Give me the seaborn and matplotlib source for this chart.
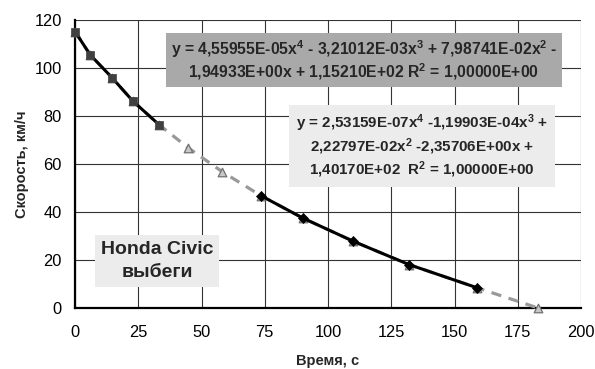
import numpy as np
import pandas as pd
import matplotlib
matplotlib.use("Agg")
import matplotlib.pyplot as plt
import seaborn as sns

# ---- data ----
time_s = [0, 6, 14.6, 22.8, 33.3, 44.8, 58.3, 73.5, 90, 110, 132, 159, 183]
speed_kmh = [115.2, 105.5, 96.0, 86.3, 76.3, 66.7, 56.7, 46.8, 37.5, 27.8, 18.1, 8.4, 0.0]
seg1_idx = [0, 1, 2, 3, 4]
seg2_idx = [7, 8, 9, 10, 11]
x_ticks = [0, 25, 50, 75, 100, 125, 150, 175, 200]
y_ticks = [0, 20, 40, 60, 80, 100, 120]
eq1 = ("y = 4,55955E-05x$^{4}$ - 3,21012E-03x$^{3}$ + 7,98741E-02x$^{2}$ -\n"
       "1,94933E+00x + 1,15210E+02 R$^{2}$ = 1,00000E+00")
eq2 = ("y = 2,53159E-07x$^{4}$ -1,19903E-04x$^{3}$ +\n"
       "2,22797E-02x$^{2}$ -2,35706E+00x +\n"
       "1,40170E+02  R$^{2}$ = 1,00000E+00")
title_txt = "Honda Civic\nвыбеги"
x_label = "Время, с"
y_label = "Скорость, км/ч"

df = pd.DataFrame({"t": time_s, "v": speed_kmh})
df1 = df.iloc[seg1_idx]
df2 = df.iloc[seg2_idx]

sns.set_theme(style="white")
plt.rcParams["font.family"] = ["Liberation Sans", "DejaVu Sans"]
plt.rcParams["mathtext.fontset"] = "custom"
plt.rcParams["mathtext.rm"] = "Liberation Sans:bold"
plt.rcParams["mathtext.it"] = "Liberation Sans:bold"
plt.rcParams["mathtext.bf"] = "Liberation Sans:bold"
plt.rcParams["mathtext.default"] = "rm"

fig = plt.figure(figsize=(5.95, 3.69), dpi=100)
ax = fig.add_axes([75/595, 1-308/369, (581-75)/595, (308-20)/369])

# gray dashed line through all points with triangles
sns.lineplot(data=df, x="t", y="v", ax=ax, color="#999999", linewidth=2.3,
             sort=False, zorder=3, clip_on=False)
ax.lines[-1].set_dashes([3.2, 2.4])
sns.scatterplot(data=df, x="t", y="v", ax=ax, marker="^", s=38,
                color="#c8c8c8", edgecolor="#707070", linewidth=0.9,
                zorder=4, clip_on=False)

# black solid segments
sns.lineplot(data=df1, x="t", y="v", ax=ax, color="black", linewidth=2.2,
             sort=False, zorder=5, clip_on=False)
sns.lineplot(data=df2, x="t", y="v", ax=ax, color="black", linewidth=2.2,
             sort=False, zorder=5, clip_on=False)
sns.scatterplot(data=df1, x="t", y="v", ax=ax, marker="s", s=40,
                color="#404040", edgecolor="#404040", linewidth=0.5,
                zorder=6, clip_on=False)
sns.scatterplot(data=df2, x="t", y="v", ax=ax, marker="D", s=26,
                color="black", edgecolor="black", linewidth=0.5,
                zorder=6, clip_on=False)

ax.set_xlim(0, 200)
ax.set_ylim(0, 120)
ax.set_xticks(x_ticks)
ax.set_yticks(y_ticks)
ax.set_xticklabels([str(v) for v in x_ticks])
ax.set_yticklabels([str(v) for v in y_ticks])
ax.tick_params(axis="both", length=0, labelsize=11.8, colors="black")
ax.tick_params(axis="x", pad=12.5)
ax.tick_params(axis="y", pad=9.4)
ax.grid(True, color="#333333", linewidth=0.8)
ax.set_axisbelow(True)
for s in ["top", "right"]:
    ax.spines[s].set_visible(False)
for s in ["left", "bottom"]:
    ax.spines[s].set_color("black")
    ax.spines[s].set_linewidth(1.6)
    ax.spines[s].set_zorder(2.5)

ax.set_xlabel(x_label, fontsize=10.5, fontweight="bold")
ax.set_ylabel(y_label, fontsize=10.5, fontweight="bold")
ax.xaxis.label.set_va("center")
ax.yaxis.label.set_va("center")
ax.xaxis.set_label_coords(0.5, (308-361)/288)
ax.yaxis.set_label_coords((22-75)/506, 0.5)

ax.text(0.571, 0.861, eq1, transform=ax.transAxes, ha="center", va="center",
        fontsize=11.3, fontweight="bold", linespacing=1.1, zorder=7,
        bbox=dict(boxstyle="square,pad=0.3", facecolor="#a9a9a9", edgecolor="none"))
ax.text(0.686, 0.561, eq2, transform=ax.transAxes, ha="center", va="center",
        fontsize=10.9, fontweight="bold", linespacing=1.16, zorder=7,
        bbox=dict(boxstyle="square,pad=0.45", facecolor="#ececec", edgecolor="none"))
ax.text(0.162, 0.163, title_txt, transform=ax.transAxes, ha="center", va="center",
        fontsize=14, fontweight="bold", linespacing=1.45, zorder=7,
        bbox=dict(boxstyle="square,pad=0.3", facecolor="#ececec", edgecolor="none"))

fig.savefig("out.png", dpi=100)
